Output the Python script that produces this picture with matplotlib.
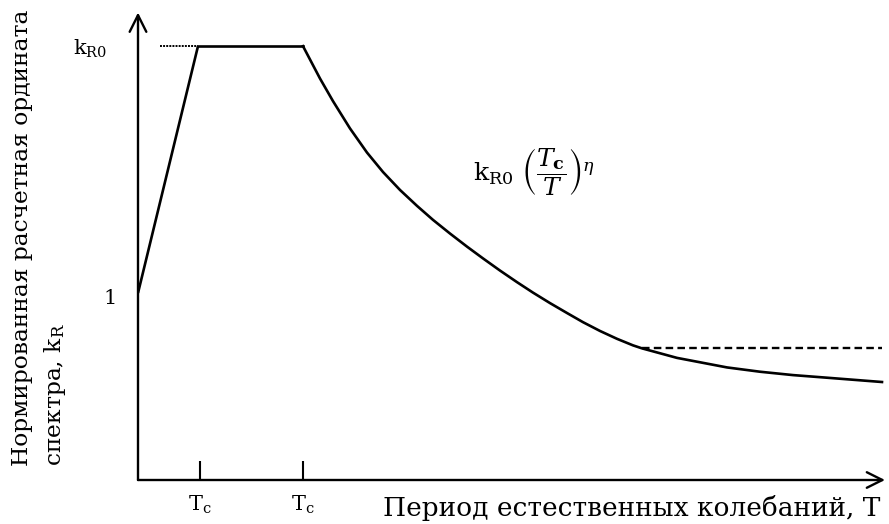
import matplotlib
matplotlib.use("Agg")
import matplotlib.pyplot as plt

plt.rcParams['font.family'] = ['DejaVu Serif']
plt.rcParams['mathtext.fontset'] = 'dejavuserif'

# --- data (schematic units) ---
rise_T = [0.0, 0.60]
rise_k = [1.0, 2.32]
plateau_T = [0.60, 1.65]
plateau_k = [2.32, 2.32]
decay_T = [1.65, 1.82, 1.95, 2.12, 2.29, 2.45, 2.62, 2.79, 2.95, 3.12, 3.29,
           3.45, 3.62, 3.79, 3.95, 4.12, 4.29, 4.45, 4.62, 4.79, 4.95, 5.04,
           5.39, 5.89, 6.22, 6.55, 6.89, 7.44]
decay_k = [2.32, 2.147, 2.026, 1.880, 1.751, 1.647, 1.551, 1.466, 1.391, 1.318,
           1.248, 1.185, 1.120, 1.058, 1.002, 0.946, 0.893, 0.844, 0.797, 0.755,
           0.720, 0.704, 0.653, 0.602, 0.579, 0.561, 0.547, 0.524]
dashed_T = [5.04, 7.44]
dashed_k = [0.704, 0.704]
dotted_T = [0.22, 0.60]
dotted_k = [2.32, 2.32]

xtick_vals = [0.62, 1.65]
xtick_labels = [r'T$_\mathregular{c}$', r'T$_\mathregular{c}$']
ytick_vals = [0.98, 2.32]
ytick_labels = ['1', r'k$_{\mathregular{R0}}$']

xlabel = 'Период естественных колебаний, T'
ylabel = 'Нормированная расчетная ордината\nспектра, k$_\\mathregular{R}$'
formula = r'$\mathregular{k}_{\mathregular{R0}}\ \left(\dfrac{T_\mathbf{c}}{T}\right)^{\eta}$'

W, H = 889, 524
fig = plt.figure(figsize=(W / 100, H / 100), dpi=100)
ax = fig.add_axes([138 / W, 44 / H, 747 / W, 2.5 * 187 / H])
ax.set_xlim(0, 7.47)
ax.set_ylim(0, 2.5)
for s in ax.spines.values():
    s.set_visible(False)

lw = 1.9
ax.plot(rise_T, rise_k, color='black', lw=lw, solid_capstyle='butt')
ax.plot(plateau_T, plateau_k, color='black', lw=lw)
ax.plot(decay_T, decay_k, color='black', lw=lw, solid_joinstyle='round')
ax.plot(dashed_T, dashed_k, color='black', lw=1.7, linestyle=(0, (3.2, 1.8)))
ax.plot(dotted_T, dotted_k, color='black', lw=1.4, linestyle=(0, (1, 0.6)))

# axes with open arrow heads
ax.annotate('', xy=(0, 1.0), xytext=(0, 0), xycoords='axes fraction',
            arrowprops=dict(arrowstyle='->', lw=1.7, color='black',
                            mutation_scale=30, shrinkA=0, shrinkB=0))
ax.annotate('', xy=(1.0, 0), xytext=(0, 0), xycoords='axes fraction',
            arrowprops=dict(arrowstyle='->', lw=1.7, color='black',
                            mutation_scale=28, shrinkA=0, shrinkB=0))

ax.set_xticks(xtick_vals)
ax.set_xticklabels(xtick_labels, fontsize=15)
ax.tick_params(axis='x', direction='in', length=14, width=1.5, pad=10)
ax.set_yticks(ytick_vals)
ax.set_yticklabels(ytick_labels, fontsize=15)
ax.tick_params(axis='y', length=0, pad=15)
yt = ax.yaxis.get_major_ticks()
yt[1].set_pad(22)
yt[1].label1.set_fontsize(15)

fig.text(383 / W, 1 - 516 / H, xlabel, fontsize=19, ha='left', va='baseline')
fig.text(11 / W, 1 - 466 / H, ylabel, fontsize=16.8, rotation=90,
         ha='left', va='bottom', multialignment='left', linespacing=1.45)
ax.text(3.35, 1.647, formula, fontsize=18, ha='left', va='center')

fig.savefig('out.png', dpi=100)
